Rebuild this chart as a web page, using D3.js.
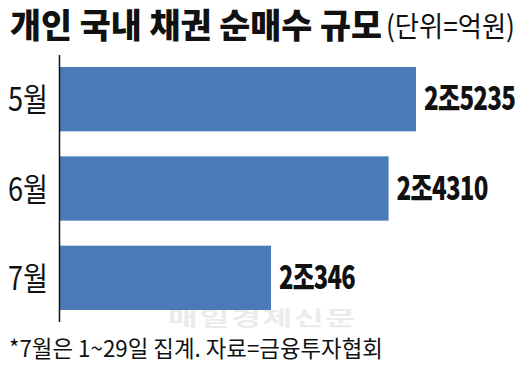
<!DOCTYPE html>
<html>
<head>
<meta charset="utf-8">
<script src="https://cdn.jsdelivr.net/npm/d3@7.9.0/dist/d3.min.js"></script>
<style>
  html, body { margin: 0; padding: 0; background: #fff; }
  svg { display: block; }
  text { font-family: "Noto Sans CJK KR", "Noto Sans", sans-serif; fill: #111; }
</style>
</head>
<body>
<svg id="chart" width="523" height="370"></svg>
<script>
// data (unit: 억원)
const months = ['5월', '6월', '7월'];
const values = [25235, 24310, 20346];
const valueLabels = ['2조5235', '2조4310', '2조346'];

const svg = d3.select('#chart');

// squeeze (or stretch) a text horizontally so it spans `w` px
function fit(sel, w, stretch) {
  sel.each(function (d, i) {
    const node = this;
    const t = d3.select(node);
    const target = typeof w === 'function' ? w(d, i) : w;
    const nat = node.getComputedTextLength();
    const x0 = +t.attr('x'), y0 = +t.attr('y');
    const k = stretch ? target / nat : Math.min(1, target / nat);
    t.attr('x', 0).attr('y', 0)
      .attr('transform', `translate(${x0},${y0}) scale(${k},1)`);
  });
}

// axis doesn't start at zero in the original graphic
const x = d3.scaleLinear()
  .domain([13230, 25235])
  .range([60, 416]);

const y = d3.scaleBand()
  .domain(months)
  .range([67, 310])
  .paddingInner(0.28)
  .paddingOuter(0);

// title
svg.append('text')
  .attr('x', 10)
  .attr('y', 38)
  .attr('font-size', 34)
  .attr('font-weight', 900)
  .text('개인 국내 채권 순매수 규모')
  .call(fit, 372);

svg.append('text')
  .attr('x', 386)
  .attr('y', 37)
  .attr('font-size', 29)
  .attr('font-weight', 400)
  .text('(단위=억원)')
  .call(fit, 129);

// watermark
svg.append('text')
  .attr('x', 168)
  .attr('y', 326)
  .attr('font-size', 20)
  .attr('font-weight', 700)
  .attr('letter-spacing', 1)
  .style('fill', '#ebebeb')
  .text('매일경제신문')
  .call(fit, 189, true);

// bars
svg.selectAll('rect.bar')
  .data(values)
  .join('rect')
  .attr('class', 'bar')
  .attr('x', x.range()[0])
  .attr('y', (d, i) => y(months[i]))
  .attr('width', d => x(d) - x.range()[0])
  .attr('height', y.bandwidth())
  .attr('fill', '#4a7bb8');

// vertical axis line
svg.append('line')
  .attr('x1', 59.5).attr('x2', 59.5)
  .attr('y1', y.range()[0] - 12)
  .attr('y2', y.range()[1] + 12)
  .attr('stroke', '#111')
  .attr('stroke-width', 1.5);

// month labels
svg.selectAll('text.month')
  .data(months)
  .join('text')
  .attr('class', 'month')
  .attr('x', 8)
  .attr('y', d => y(d) + y.bandwidth() / 2 + 12)
  .attr('font-size', 32)
  .text(d => d)
  .call(fit, 40);

// value labels
svg.selectAll('text.val')
  .data(values)
  .join('text')
  .attr('class', 'val')
  .attr('x', d => x(d) + 8)
  .attr('y', (d, i) => y(months[i]) + y.bandwidth() / 2 + 11)
  .attr('font-size', 32)
  .attr('font-weight', 900)
  .attr('letter-spacing', -1)
  .text((d, i) => valueLabels[i])
  .call(fit, (d, i) => valueLabels[i].length * 15.2);

// footnote
svg.append('text')
  .attr('x', 9)
  .attr('y', 357)
  .attr('font-size', 23)
  .text('*7월은 1~29일 집계. 자료=금융투자협회')
  .call(fit, 374);
</script>
</body>
</html>
